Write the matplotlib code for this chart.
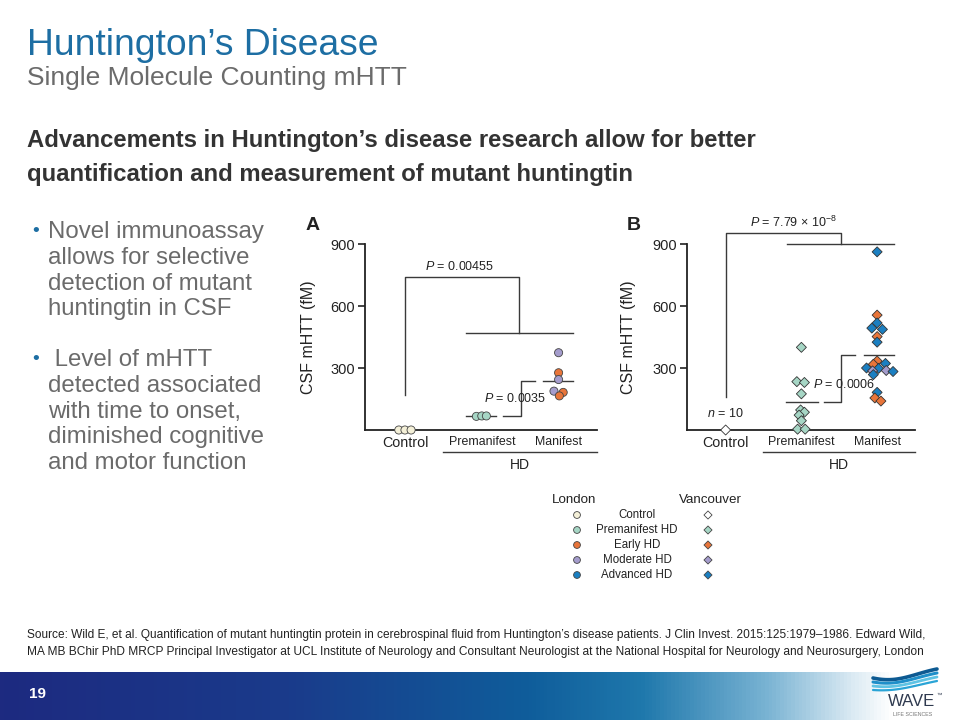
import numpy as np
import matplotlib.pyplot as plt
from matplotlib.colors import LinearSegmentedColormap

plt.rcParams['font.family'] = ['Liberation Sans', 'DejaVu Sans']
plt.rcParams['mathtext.fontset'] = 'custom'
plt.rcParams['mathtext.rm'] = 'Liberation Sans'
plt.rcParams['mathtext.it'] = 'Liberation Sans:italic'

# ---- data ----
categories = ["Control", "Premanifest", "Manifest"]
stages = ["Control", "Premanifest HD", "Early HD", "Moderate HD", "Advanced HD"]
stage_colors = ["#f4f0d8", "#a6d6c5", "#e8753a", "#a49ccc", "#1b7fc1"]
van_control_color = "#ffffff"

# Panel A: London cohort (circles)
a_group = [0, 0, 0, 1, 1, 1, 2, 2, 2, 2, 2, 2]
a_jitter = [-0.08, 0.0, 0.08, -0.07, 0.0, 0.06, 0.0, 0.0, 0.0, -0.06, 0.06, 0.01]
a_value = [0, 0, 0, 66, 68, 68, 374, 277, 244, 188, 182, 165]
a_stage = [0, 0, 0, 1, 1, 1, 3, 2, 3, 3, 2, 2]
a_median = [66, 239]
a_pvals = ["0.00455", "0.0035"]

# Panel B: Vancouver cohort (diamonds)
b_group = [0] + [1] * 10 + [2] * 19
b_jitter = [0.0,
            0.0, -0.06, 0.04, 0.0, -0.01, 0.04, -0.03, 0.0, -0.05, 0.05,
            0.0, 0.0, 0.0, -0.07, 0.07, 0.0, 0.0, 0.0, -0.05, 0.11,
            -0.14, 0.02, -0.06, 0.12, 0.21, -0.05, 0.0, -0.03, 0.05]
b_value = [0,
           400, 234, 230, 175, 97, 86, 72, 45, 4, 4,
           862, 556, 518, 493, 487, 452, 425, 334, 318, 322,
           300, 298, 286, 288, 283, 268, 182, 155, 140]
b_stage = [0,
           1, 1, 1, 1, 1, 1, 1, 1, 1, 1,
           4, 2, 4, 4, 4, 2, 4, 2, 2, 4,
           4, 4, 3, 3, 4, 4, 4, 2, 2]
b_median = [137, 363]
b_pvals = [r"7.79 × 10$^{-8}$", "0.0006"]
b_n_control = 10

LINE = "#3a3a3a"
TXT = "#222222"

fig = plt.figure(figsize=(9.6, 7.2), dpi=100)


def px_rect(l, t, r, b):
    return [l / 960, 1 - b / 720, (r - l) / 960, (b - t) / 720]


# slide background layer in pixel coordinates
bg = fig.add_axes([0, 0, 1, 1], zorder=-1)
band = LinearSegmentedColormap.from_list(
    "band", [(0, "#1d2a80"), (0.3, "#1a3b8b"), (0.55, "#0f5d9b"), (0.67, "#1f78ac"),
             (0.8, "#79b3d3"), (0.89, "#dbeaf3"), (0.93, "#ffffff"), (1, "#ffffff")])
bg.imshow(np.linspace(0, 1, 256)[None, :], cmap=band, extent=(0, 960, 720, 672), aspect="auto")
bg.set_xlim(0, 960)
bg.set_ylim(720, 0)
bg.axis("off")

bg.text(27, 55, "Huntington’s Disease", fontsize=26.8, color="#1d6ea3", va="baseline")
bg.text(27, 85, "Single Molecule Counting mHTT", fontsize=19, color="#6b6b6b", va="baseline")
bg.text(27, 140, "Advancements in Huntington’s disease research allow for better",
        fontsize=17.2, fontweight="bold", color="#333333", va="center")
bg.text(27, 174, "quantification and measurement of mutant huntingtin",
        fontsize=17.2, fontweight="bold", color="#333333", va="center")

bullets = [["Novel immunoassay", "allows for selective", "detection of mutant", "huntingtin in CSF"],
           [" Level of mHTT", "detected associated", "with time to onset,", "diminished cognitive",
            "and motor function"]]
y0 = [232, 360]
for lines, yb in zip(bullets, y0):
    bg.text(36, yb, "•", fontsize=14, color="#1d6ea3", ha="center", va="center")
    for i, ln in enumerate(lines):
        bg.text(48, yb + i * 25.8, ln, fontsize=17.3, color="#6b6b6b", va="center")

bg.text(27, 635, "Source: Wild E, et al. Quantification of mutant huntingtin protein in cerebrospinal fluid "
        "from Huntington’s disease patients. J Clin Invest. 2015:125:1979–1986. Edward Wild,",
        fontsize=8.6, color=TXT, va="center")
bg.text(27, 652, "MA MB BChir PhD MRCP Principal Investigator at UCL Institute of Neurology and Consultant "
        "Neurologist at the National Hospital for Neurology and Neurosurgery, London",
        fontsize=8.6, color=TXT, va="center")
bg.text(38, 694, "19", fontsize=11, fontweight="bold", color="white", va="center", ha="center")

# logo
t = np.linspace(0, 1, 60)
for base, amp, col, lw in [(682, 6, "#0d5a92", 2.6), (686, 5, "#1f8fc9", 2.2),
                           (690, 4, "#5fc3e4", 2.0), (694, 3, "#2aa4d6", 1.6)]:
    bg.plot(873 + 64 * t, base - 13 * t + amp * np.sin(np.pi * t) * (1 - t) - 4 * (1 - t) ** 2,
            color=col, lw=lw, solid_capstyle="round")
bg.text(912, 702, "WAVE", fontsize=12, color="#2f3a4f", ha="center", va="center")
bg.text(939, 695, "™", fontsize=4, color="#2f3a4f", ha="center", va="center")
bg.text(913, 714, "LIFE SCIENCES", fontsize=3.8, color="#777777", ha="center", va="center")

# legend
bg.text(574, 500, "London", fontsize=9.6, color=TXT, ha="center", va="center")
bg.text(710, 500, "Vancouver", fontsize=9.6, color=TXT, ha="center", va="center")
leg_y = [515, 530, 545, 560, 575]
for i, name in enumerate(stages):
    bg.text(637, leg_y[i], name, fontsize=8.3, color=TXT, ha="center", va="center")
bg.scatter([577] * 5, leg_y, s=24, marker="o", c=stage_colors, edgecolors="#444444", linewidths=0.6)
bg.scatter([708] * 5, leg_y, s=17, marker="D",
           c=[van_control_color] + stage_colors[1:], edgecolors="#444444", linewidths=0.6)


def setup(ax, letter, letter_xy, xmin, ylabel_x):
    ax.set_xlim(xmin, 2.5)
    ax.set_ylim(0, 1050)
    ax.patch.set_alpha(0)
    ax.spines[["top", "right"]].set_visible(False)
    ax.spines[["left", "bottom"]].set_linewidth(1.3)
    ax.spines[["left", "bottom"]].set_color(TXT)
    ax.spines["left"].set_bounds(0, 900)
    ax.set_yticks([300, 600, 900])
    ax.tick_params(axis="y", length=5, width=1.2, labelsize=10.5, pad=2, colors=TXT)
    ax.set_xticks(range(3), categories)
    ax.tick_params(axis="x", length=0, pad=4, colors=TXT)
    labs = ax.get_xticklabels()
    labs[0].set_fontsize(10.3)
    labs[1].set_fontsize(8.9)
    labs[2].set_fontsize(8.9)
    ax.set_ylabel("CSF mHTT (fM)", fontsize=11.5, color=TXT)
    ax.yaxis.set_label_coords(ylabel_x, 451 / 1050)
    ax.plot([0.49, 2.5], [-106, -106], color=LINE, lw=1, clip_on=False)
    ax.text(1.49, -169, "HD", fontsize=10, color=TXT, ha="center", va="center")
    fig.text(letter_xy[0] / 960, 1 - letter_xy[1] / 720, letter, fontsize=14,
             fontweight="bold", color=TXT, ha="center", va="center")


def seg(ax, xs, ys):
    ax.plot(xs, ys, color=LINE, lw=1, clip_on=False, zorder=2)


# ---- Panel A ----
axA = fig.add_axes(px_rect(365, 213, 597, 430))
setup(axA, "A", (313, 226), -0.52, -0.211)
ax = axA
seg(ax, [0, 0, 1.49, 1.49], [169, 742, 742, 471])
seg(ax, [0.80, 2.19], [471, 471])
seg(ax, [0.80, 1.19], [a_median[0]] * 2)
seg(ax, [1.80, 2.19], [a_median[1]] * 2)
seg(ax, [1.28, 1.51, 1.51, 1.69], [a_median[0], a_median[0], a_median[1], a_median[1]])
ax.text(0.71, 790, "$P$ = " + a_pvals[0], fontsize=9, color=TXT, ha="center", va="center")
ax.text(1.44, 150, "$P$ = " + a_pvals[1], fontsize=9, color=TXT, ha="center", va="center")
ax.scatter(np.array(a_group) + np.array(a_jitter), a_value, s=34, marker="o",
           c=[stage_colors[k] for k in a_stage], edgecolors="#444444", linewidths=0.6,
           clip_on=False, zorder=3)

# ---- Panel B ----
axB = fig.add_axes(px_rect(687, 213, 915, 430))
setup(axB, "B", (634, 226), -0.51, -0.224)
ax = axB
seg(ax, [0, 0, 1.52, 1.52], [161, 955, 955, 900])
seg(ax, [0.81, 2.22], [900, 900])
seg(ax, [0.80, 1.22], [b_median[0]] * 2)
seg(ax, [1.83, 2.22], [b_median[1]] * 2)
seg(ax, [1.30, 1.52, 1.52, 1.71], [b_median[0], b_median[0], b_median[1], b_median[1]])
ax.text(0.89, 1003, "$P$ = " + b_pvals[0], fontsize=9, color=TXT, ha="center", va="center")
ax.text(1.57, 218, "$P$ = " + b_pvals[1], fontsize=9, color=TXT, ha="center", va="center")
ax.text(0, 80, "$n$ = %d" % b_n_control, fontsize=9, color=TXT, ha="center", va="center")
b_cols = [van_control_color if k == 0 else stage_colors[k] for k in b_stage]
ax.scatter(np.array(b_group) + np.array(b_jitter), b_value, s=26, marker="D",
           c=b_cols, edgecolors="#333333", linewidths=0.6, clip_on=False, zorder=3)

fig.savefig("out.png", dpi=100)
